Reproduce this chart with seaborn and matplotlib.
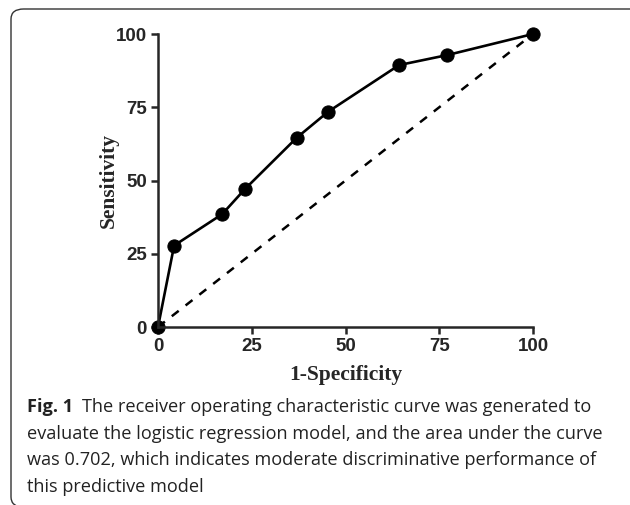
import matplotlib
matplotlib.use("Agg")
import matplotlib.pyplot as plt
from matplotlib.patches import FancyBboxPatch
import seaborn as sns
import pandas as pd

# ROC points (1-specificity, sensitivity), in percent
fpr = [0, 4.3, 17.1, 23.2, 37.0, 45.4, 64.3, 77.1, 100]
tpr = [0, 27.8, 38.5, 47.1, 64.6, 73.5, 89.4, 92.8, 100]
ref_line = [0, 100]
ticks = [0, 25, 50, 75, 100]

caption_bold = "Fig. 1"
caption_lines = [
    "The receiver operating characteristic curve was generated to",
    "evaluate the logistic regression model, and the area under the curve",
    "was 0.702, which indicates moderate discriminative performance of",
    "this predictive model",
]

sns.set_style("ticks")
plt.rcParams["font.family"] = ["Liberation Sans", "DejaVu Sans"]

df = pd.DataFrame({"fpr": fpr, "tpr": tpr})

W, H = 630, 505
fig = plt.figure(figsize=(W / 100, H / 100), dpi=100)
ax = fig.add_axes([158 / W, 1 - 327 / H, (533 - 158) / W, (327 - 34) / H])

# chance line
sns.lineplot(x=ref_line, y=ref_line, ax=ax, color="black", linewidth=1.8,
             linestyle=(0, (3.5, 3.5)))
# ROC curve
sns.lineplot(data=df, x="fpr", y="tpr", ax=ax, color="black", linewidth=1.9,
             marker="o", markersize=9.5, markeredgecolor="black",
             estimator=None, sort=False, clip_on=False)

ax.set_xlim(0, 100)
ax.set_ylim(0, 100)
ax.set_xticks(ticks)
ax.set_yticks(ticks)
ax.tick_params(direction="out", length=5, width=1.8, labelsize=13.5, pad=3)
for lbl in ax.get_xticklabels() + ax.get_yticklabels():
    lbl.set_fontweight("bold")
for side in ["left", "bottom"]:
    ax.spines[side].set_linewidth(1.8)
sns.despine(ax=ax)

ax.set_xlabel("1-Specificity", fontfamily="Liberation Serif", fontweight="bold",
              fontsize=15.5, labelpad=7)
ax.set_ylabel("Sensitivity", fontfamily="Liberation Serif", fontweight="bold",
              fontsize=15.5, labelpad=-2)

# frame around figure (bottom and right edges run off the image)
box = FancyBboxPatch((11 / W, -2 / H), 700 / W, (496 + 2) / H,
                     boxstyle="round,pad=0,rounding_size=0.02",
                     transform=fig.transFigure, fill=False,
                     edgecolor="#333333", linewidth=1.0, clip_on=False)
fig.patches.append(box)

# caption
cap_font = "Open Sans"
cap_size = 13.05
x0 = 27 / W
y0 = 1 - 412 / H
dy = 26.7 / H
t = fig.text(x0, y0, caption_bold, fontfamily=cap_font, fontweight="bold",
             fontsize=cap_size, va="baseline", color="#222222")
fig.canvas.draw()
bb = t.get_window_extent()
fig.text((bb.x1 + 9) / W, y0, caption_lines[0], fontfamily=cap_font,
         fontsize=cap_size, va="baseline", color="#222222")
for i, line in enumerate(caption_lines[1:], start=1):
    fig.text(x0, y0 - i * dy, line, fontfamily=cap_font,
             fontsize=cap_size, va="baseline", color="#222222")

fig.savefig("out.png", dpi=100)
